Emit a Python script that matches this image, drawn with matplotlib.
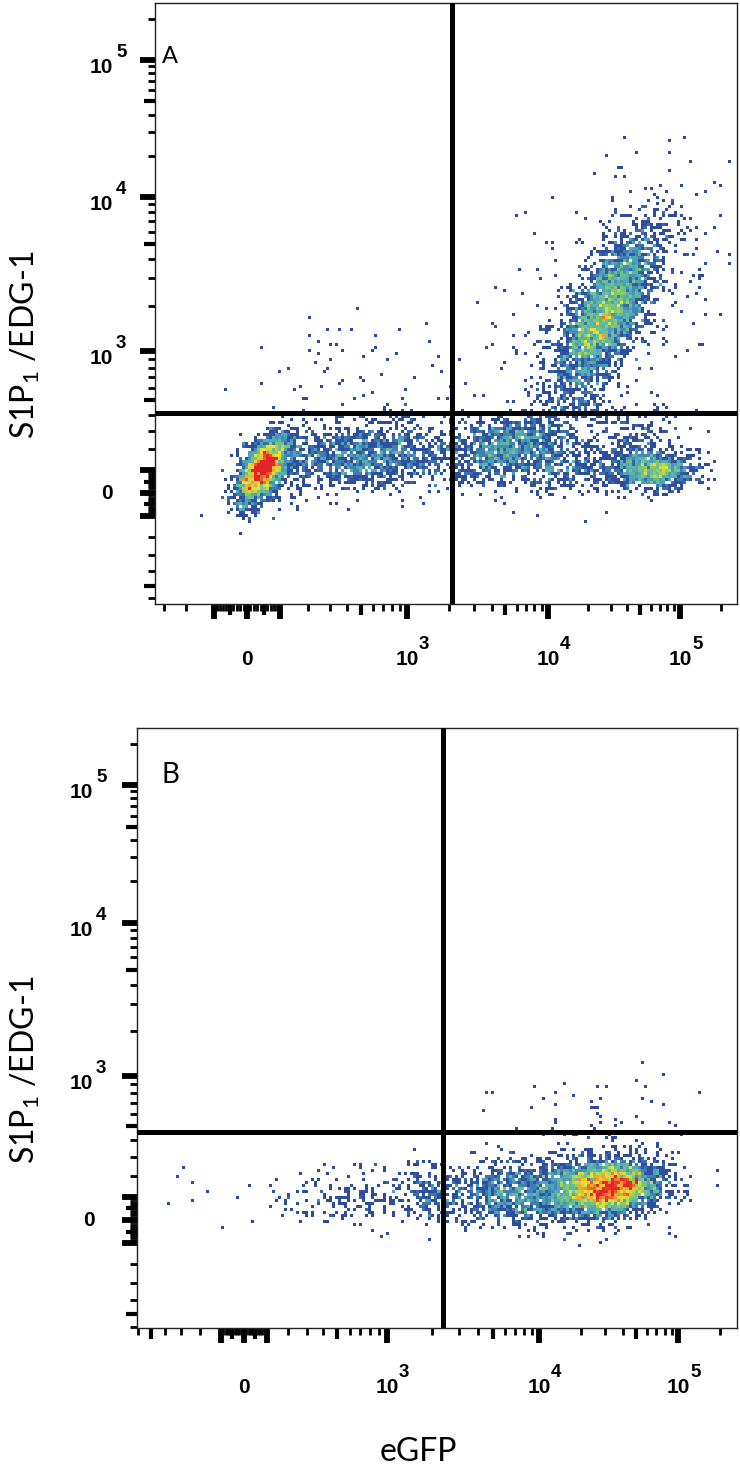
import numpy as np
import matplotlib
matplotlib.use("Agg")
import matplotlib.pyplot as plt
from matplotlib.colors import LinearSegmentedColormap
from matplotlib.ticker import FixedLocator, NullFormatter
from matplotlib.transforms import offset_copy

# Cell populations: centre (fluorescence units),
# spread (arcsinh units of the axis cofactor), correlation and event count.
A_CX = [45, 530, 4960, 27000, 64600, 12300, 470, 31000, 90, 40000]
A_CY = [102, 160, 222, 1700, 102, 110, 672, 2300, 120, 260]
A_SX = [0.18, 0.65, 0.50, 0.46, 0.36, 0.75, 0.85, 0.95, 0.30, 0.55]
A_SY = [0.21, 0.20, 0.20, 0.62, 0.12, 0.17, 0.40, 0.95, 0.28, 0.22]
A_RHO = [0.6, 0.10, 0.35, 0.72, 0.0, 0.0, 0.0, 0.5, 0.4, 0.0]
A_N = [1900, 1200, 900, 2900, 800, 450, 90, 450, 150, 220]
A_GATE = (2100, 410)

B_CX = [31000, 7500, 1920, 693, 27500, -252, 24000]
B_CY = [141, 115, 109, 96, 630, 110, 150]
B_SX = [0.42, 0.55, 0.25, 0.58, 0.80, 0.30, 0.75]
B_SY = [0.16, 0.19, 0.20, 0.20, 0.25, 0.20, 0.30]
B_RHO = [0.1, 0.0, 0.0, 0.0, 0.0, 0.0, 0.1]
B_N = [2900, 1000, 160, 200, 45, 5, 350]
B_GATE = (2350, 455)

DECADES = [1e3, 1e4, 1e5]
DECADE_EXP = ["3", "4", "5"]

# Biexponential display: cofactor, axis-end values and decade anchors
A_XSCALE = (200, [-350, 0, 1e3, 1e4, 1e5, 262144], [0, 92, 252, 393, 525, 582])
A_YSCALE = (350, [-655, 0, 1e3, 1e4, 1e5, 262144], [0, 111, 253, 407, 544, 601])
B_XSCALE = (350, [-611, 0, 1e3, 1e4, 1e5, 262144], [0, 107, 250, 402, 541, 600])
B_YSCALE = (350, [-612, 0, 1e3, 1e4, 1e5, 262144], [0, 108, 252, 405, 543, 600])

CMAP = LinearSegmentedColormap.from_list(
    "flow", [(0.0, "#2d4a9b"), (0.12, "#2f50a0"), (0.28, "#4a9cbc"),
             (0.42, "#5cb9a8"), (0.56, "#8ccb62"), (0.70, "#f0e332"),
             (0.84, "#f3a02c"), (1.0, "#e2252a")])
RED_AT = 12.0  # events per 3-px bin that reach full red

W, H = 740, 1468
fig = plt.figure(figsize=(W / 100, H / 100), dpi=100)

TICK_FONT = "Liberation Sans"
LABEL_FONT = "Lato"


def biex(cof, vals, px):
    u = np.arcsinh(np.asarray(vals, float) / cof)
    p = np.asarray(px, float)
    s0 = (p[1] - p[0]) / (u[1] - u[0])
    s1 = (p[-1] - p[-2]) / (u[-1] - u[-2])

    def fwd(v):
        t = np.arcsinh(np.asarray(v, float) / cof)
        out = np.interp(t, u, p)
        out = np.where(t < u[0], p[0] + (t - u[0]) * s0, out)
        return np.where(t > u[-1], p[-1] + (t - u[-1]) * s1, out)

    def inv(q):
        q = np.asarray(q, float)
        t = np.interp(q, p, u)
        t = np.where(q < p[0], u[0] + (q - p[0]) / s0, t)
        t = np.where(q > p[-1], u[-1] + (q - p[-1]) / s1, t)
        return cof * np.sinh(t)

    return fwd, inv


def sample(rng, cx, cy, sx, sy, rho, n, cofx, cofy):
    xs, ys = [], []
    for i in range(len(cx)):
        z1 = rng.standard_normal(n[i])
        z2 = rng.standard_normal(n[i])
        ux = np.arcsinh(cx[i] / cofx) + sx[i] * z1
        uy = np.arcsinh(cy[i] / cofy) + sy[i] * (rho[i] * z1 + np.sqrt(1 - rho[i] ** 2) * z2)
        xs.append(cofx * np.sinh(ux))
        ys.append(cofy * np.sinh(uy))
    return np.concatenate(xs), np.concatenate(ys)


def smooth(a, sigma):
    r = int(3 * sigma)
    k = np.exp(-0.5 * (np.arange(-r, r + 1) / sigma) ** 2)
    k /= k.sum()
    a = np.apply_along_axis(lambda m: np.convolve(m, k, mode="same"), 0, a)
    return np.apply_along_axis(lambda m: np.convolve(m, k, mode="same"), 1, a)


def tick_set(vmin, vmax):
    vals, kinds = [0.0], ["major"]
    for d in range(1, 6):
        for k in range(1, 10):
            for s in (1, -1):
                v = s * k * 10 ** d
                if vmin < v < vmax:
                    vals.append(float(v))
                    if k == 1 and d >= 2:
                        kinds.append("major")
                    elif k == 5:
                        kinds.append("mid")
                    else:
                        kinds.append("minor")
    return vals, kinds


TICK_STYLE = {"major": (11, 4.2), "mid": (8, 3.0), "minor": (5, 2.0)}


def style_ticks(axis, vals, kinds):
    axis.set_major_locator(FixedLocator(vals))
    axis.set_major_formatter(NullFormatter())
    for t, kind in zip(axis.get_major_ticks(len(vals)), kinds):
        length, width = TICK_STYLE[kind]
        t.tick1line.set_markersize(length)
        t.tick1line.set_markeredgewidth(width)


def panel(rect_px, xs, ys, pops, gate, letter, letter_pos, letter_size, xlab_off, ylab_off, seed):
    left, top, wpx, hpx = rect_px
    ax = fig.add_axes([left / W, 1 - (top + hpx) / H, wpx / W, hpx / H])
    fx, ix = biex(*xs)
    fy, iy = biex(*ys)
    ax.set_xscale("function", functions=(fx, ix))
    ax.set_yscale("function", functions=(fy, iy))
    ax.set_xlim(xs[1][0], xs[1][-1])
    ax.set_ylim(ys[1][0], ys[1][-1])

    rng = np.random.default_rng(seed)
    ex, ey = sample(rng, *pops, xs[0], ys[0])
    xe = ix(np.arange(0, wpx + 0.01, 3.0))
    ye = iy(np.arange(0, hpx + 0.01, 3.0))
    counts, _, _ = np.histogram2d(ex, ey, bins=[xe, ye])
    dens = 0.7 * counts + 0.3 * smooth(counts, 1.0)
    val = ((dens - 0.7) / (RED_AT - 0.7)).clip(0, 1) ** 0.7
    img = np.ma.masked_where(counts == 0, val)
    ax.pcolormesh(xe, ye, img.T, cmap=CMAP, vmin=0, vmax=1,
                  shading="flat", edgecolors="none", rasterized=True)

    ax.axvline(gate[0], color="black", lw=3.6, zorder=3)
    ax.axhline(gate[1], color="black", lw=3.6, zorder=3)

    for sp in ax.spines.values():
        sp.set_linewidth(1.0)
        sp.set_color("#222222")
    ax.tick_params(which="major", direction="out", top=False, right=False, color="black")
    style_ticks(ax.xaxis, *tick_set(xs[1][0], xs[1][-1]))
    style_ticks(ax.yaxis, *tick_set(ys[1][0], ys[1][-1]))

    bold = dict(family=TICK_FONT, fontweight="bold", color="black")
    xt = ax.get_xaxis_transform()
    yt = ax.get_yaxis_transform()
    ax.text(0, 0, "0", transform=offset_copy(xt, fig, y=-xlab_off, units="dots"),
            ha="center", va="baseline", fontsize=15, **bold)
    ax.text(0, 0, "0", transform=offset_copy(yt, fig, x=-42, y=-6, units="dots"),
            ha="right", va="baseline", fontsize=15, **bold)
    for v, e in zip(DECADES, DECADE_EXP):
        ax.text(v, 0, "10", transform=offset_copy(xt, fig, y=-xlab_off, units="dots"),
                ha="center", va="baseline", fontsize=15, **bold)
        ax.text(v, 0, e, transform=offset_copy(xt, fig, x=12, y=-xlab_off + 16, units="dots"),
                ha="left", va="baseline", fontsize=13.5, **bold)
        ax.text(0, v, "10", transform=offset_copy(yt, fig, x=-ylab_off, y=-13, units="dots"),
                ha="right", va="baseline", fontsize=15, **bold)
        ax.text(0, v, e, transform=offset_copy(yt, fig, x=-ylab_off + 3, y=3, units="dots"),
                ha="left", va="baseline", fontsize=13.5, **bold)

    ax.text(0, 1, letter, transform=offset_copy(ax.transAxes, fig, x=letter_pos[0],
                                                y=-letter_pos[1], units="dots"),
            ha="left", va="baseline", fontsize=letter_size, family=LABEL_FONT, color="black")
    return ax


panel((155, 3, 582, 601), A_XSCALE, A_YSCALE,
      (A_CX, A_CY, A_SX, A_SY, A_RHO, A_N), A_GATE, "A", (7, 60), 17, 61, 42, 11)
panel((137, 728, 600, 600), B_XSCALE, B_YSCALE,
      (B_CX, B_CY, B_SX, B_SY, B_RHO, B_N), B_GATE, "B", (25, 55), 20, 65, 44, 5)

plt.rcParams["mathtext.fontset"] = "custom"
plt.rcParams["mathtext.rm"] = LABEL_FONT
ylab = "S1P$_{\\mathrm{1}}$ /EDG-1"
for yc in (345, 1070):
    fig.text(25 / W, 1 - yc / H, ylab, rotation=90, ha="center", va="center",
             fontsize=23, family=LABEL_FONT, color="black")
fig.text(418 / W, 1 - 1461 / H, "eGFP", ha="center", va="baseline",
         fontsize=23, family=LABEL_FONT, color="black")

fig.savefig("out.png", dpi=100)
